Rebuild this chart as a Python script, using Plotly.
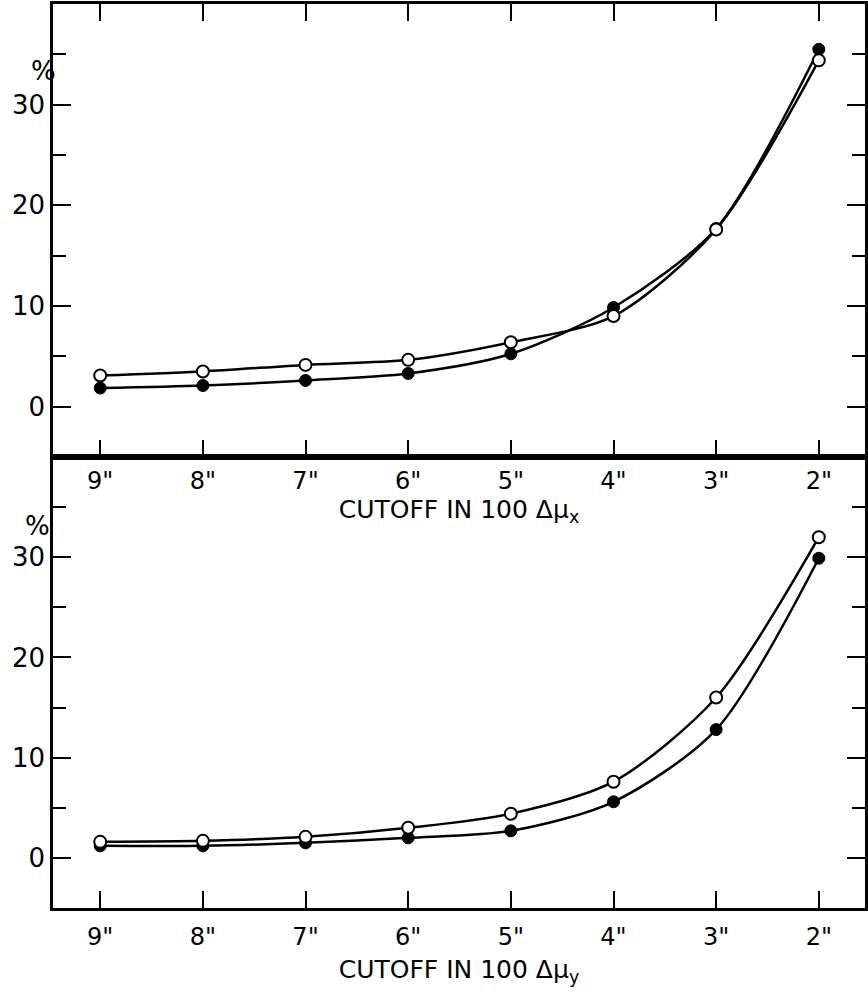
import plotly.graph_objects as go
from plotly.subplots import make_subplots

cutoff = [9, 8, 7, 6, 5, 4, 3, 2]
tick_labels = ['9"', '8"', '7"', '6"', '5"', '4"', '3"', '2"']

# Top panel (cutoff in 100 Δμx)
x_open = [3.1, 3.5, 4.15, 4.65, 6.4, 9.0, 17.6, 34.4]
x_filled = [1.85, 2.1, 2.6, 3.3, 5.25, 9.85, 17.7, 35.5]

# Bottom panel (cutoff in 100 Δμy)
y_open = [1.6, 1.7, 2.1, 3.0, 4.4, 7.6, 16.0, 32.0]
y_filled = [1.2, 1.2, 1.5, 2.0, 2.7, 5.6, 12.8, 29.9]

y_ticks = [0, 10, 20, 30]

FONT = "DejaVu Sans"

fig = make_subplots(rows=2, cols=1, vertical_spacing=0)

def add_pair(op, fi, row):
    fig.add_trace(go.Scatter(
        x=cutoff, y=fi, mode="lines+markers",
        line=dict(color="black", width=2.5, shape="spline", smoothing=0.8),
        marker=dict(symbol="circle", size=12, color="black",
                    line=dict(color="black", width=1)),
        showlegend=False), row=row, col=1)
    fig.add_trace(go.Scatter(
        x=cutoff, y=op, mode="lines+markers",
        line=dict(color="black", width=2.5, shape="spline", smoothing=0.8),
        marker=dict(symbol="circle", size=12, color="white",
                    line=dict(color="black", width=2)),
        showlegend=False), row=row, col=1)

add_pair(x_open, x_filled, 1)
add_pair(y_open, y_filled, 2)

split = (908 - 457) / 904.0

xcommon = dict(
    range=[9.46, 1.55], tickmode="array", tickvals=cutoff, ticktext=tick_labels,
    ticks="inside", ticklen=17, tickwidth=2, tickcolor="black",
    showline=True, linecolor="black", linewidth=2.5, showgrid=False, zeroline=False,
    tickfont=dict(family=FONT, size=24, color="black"), automargin=False,
)
ycommon = dict(
    range=[-5, 40], tickmode="array", tickvals=y_ticks,
    ticks="inside", ticklen=18, tickwidth=2, tickcolor="black",
    minor=dict(dtick=5, tick0=5, ticks="inside", ticklen=13, tickwidth=2, tickcolor="black"),
    showline=True, linecolor="black", linewidth=2.5, mirror="ticks",
    showgrid=False, zeroline=False,
    tickfont=dict(family=FONT, size=26, color="black"), automargin=False,
)

fig.update_layout(
    xaxis=dict(**xcommon, mirror="ticks", anchor="y",
               title=dict(text="CUTOFF IN 100 Δμ<sub>x</sub>",
                          font=dict(family=FONT, size=25, color="black"), standoff=6)),
    xaxis2=dict(**xcommon, mirror=True, anchor="y2", ticklabelstandoff=5,
                title=dict(text="CUTOFF IN 100 Δμ<sub>y</sub>",
                           font=dict(family=FONT, size=25, color="black"), standoff=11)),
    yaxis=dict(**ycommon, domain=[split, 1.0]),
    yaxis2=dict(**ycommon, domain=[0.0, split]),
    width=868, height=997,
    margin=dict(l=53, r=3, t=4, b=89, autoexpand=False),
    plot_bgcolor="white", paper_bgcolor="white",
    font=dict(family=FONT, color="black"),
)

fig.add_annotation(text="%", x=-0.03, y=33.3, xref="paper", yref="y",
                   showarrow=False, font=dict(family=FONT, size=26, color="black"))
fig.add_annotation(text="%", x=-0.037, y=33.1, xref="paper", yref="y2",
                   showarrow=False, font=dict(family=FONT, size=26, color="black"))

fig.write_html("out.html", config={"displayModeBar": False},
               post_script="document.body.style.margin='0px';")
